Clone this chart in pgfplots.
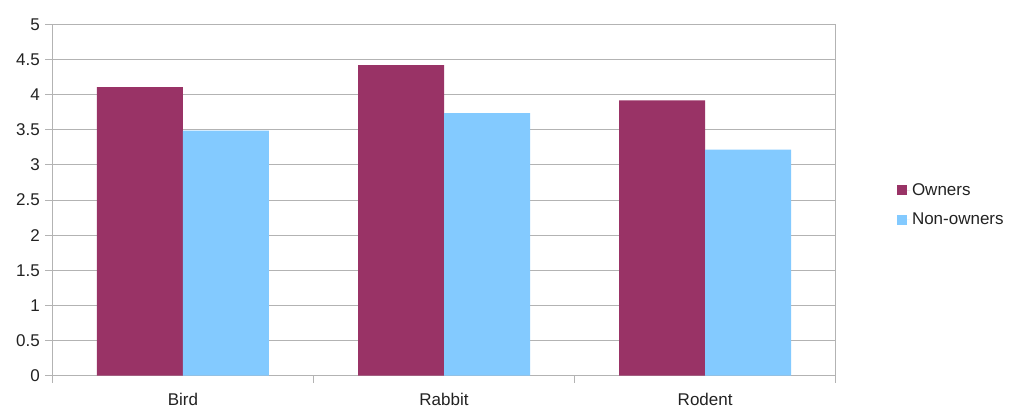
\documentclass[border=0pt]{standalone}
\usepackage{fontspec}
\setmainfont{Liberation Sans}
\usepackage{pgfplots}
\pgfplotsset{compat=1.18}

\definecolor{owners}{HTML}{993366}
\definecolor{nonowners}{HTML}{83CAFF}
\definecolor{gridgray}{HTML}{B3B3B3}
\definecolor{labelgray}{HTML}{222222}

\begin{document}
\begin{tikzpicture}
\useasboundingbox (0pt,0pt) rectangle (1010pt,408pt);
\begin{axis}[
  at={(52.3pt,32.3pt)}, anchor=south west,
  scale only axis, width=783.4pt, height=351.2pt,
  ybar=0pt, bar width=86pt,
  xmin=-0.5, xmax=2.5, ymin=0, ymax=5,
  xtick={0,1,2}, xticklabels={Bird,Rabbit,Rodent},
  minor xtick={-0.5,0.5,1.5,2.5},
  ytick={0,0.5,...,5},
  yticklabels={0,0.5,1,1.5,2,2.5,3,3.5,4,4.5,5},
  major x tick style={draw=none},
  minor tick length=7pt, major tick length=7pt,
  tick align=outside, tick pos=left,
  ymajorgrids, grid style={gridgray, line width=1pt},
  axis line style={gridgray, line width=1pt},
  every tick/.style={gridgray, line width=1pt},
  tick label style={font=\fontsize{17}{19}\selectfont, text=labelgray},
  /pgf/number format/assume math mode=true,
  xticklabel style={yshift=-7pt},
  yticklabel style={xshift=-2pt},
  legend style={draw=none, fill=none, at={(1.078,0.486)}, anchor=west,
    font=\fontsize{17}{19}\selectfont, text=labelgray,
    row sep=12pt, inner sep=0pt},
  legend cell align=left,
  legend image code/.code={%
    \path[#1, draw=none] (0pt,-5pt) rectangle (10pt,5pt);
    \path (0pt,0pt) -- (13pt,0pt);},
]
\addplot[fill=owners, draw=none] coordinates {(0,4.11) (1,4.42) (2,3.92)};
\addplot[fill=nonowners, draw=none] coordinates {(0,3.49) (1,3.74) (2,3.22)};
\legend{Owners,Non-owners}
\end{axis}
\end{tikzpicture}
\end{document}
